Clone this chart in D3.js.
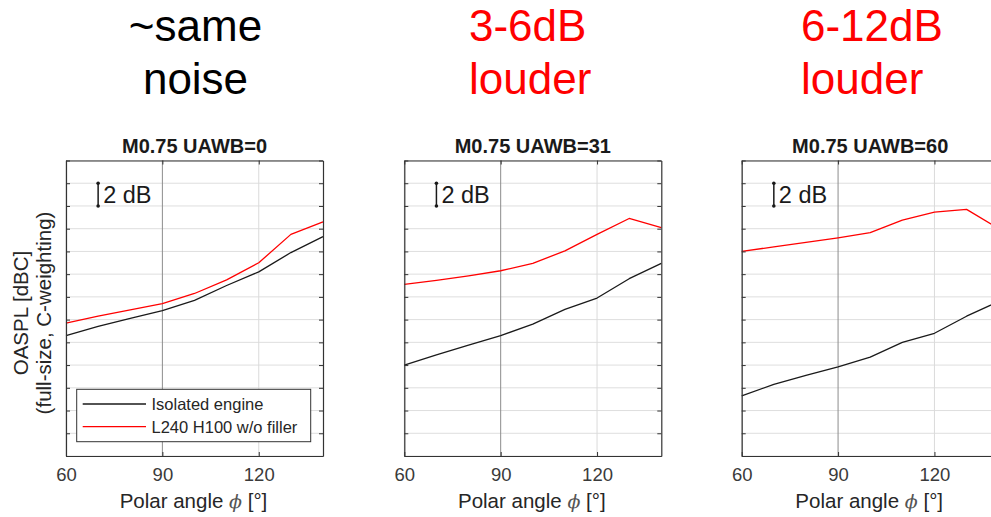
<!DOCTYPE html>
<html>
<head>
<meta charset="utf-8">
<script src="https://cdn.jsdelivr.net/npm/d3@7"></script>
<style>
  html, body { margin: 0; padding: 0; background: #fff; }
  svg { display: block; font-family: "Liberation Sans", Arial, sans-serif; }
</style>
</head>
<body>
<svg id="chart" width="991" height="517"></svg>
<script>
// ---------------- data ----------------
const angles = [60, 70, 80, 90, 100, 110, 120, 130, 140];
const xTicks = [60, 90, 120];
const yTicks = [0, 2, 4, 6, 8, 10, 12, 14, 16, 18, 20, 22, 24, 26]; // relative dB, unlabeled
const seriesNames = ["Isolated engine", "L240 H100 w/o filler"];
const panelTitles = ["M0.75 UAWB=0", "M0.75 UAWB=31", "M0.75 UAWB=60"];
const headerLines = [["~same", "noise"], ["3-6dB", "louder"], ["6-12dB", "louder"]];
const isolated0 = [10.6, 11.4, 12.1, 12.8, 13.7, 15.0, 16.2, 17.9, 19.3];
const filler0   = [11.7, 12.3, 12.85, 13.4, 14.3, 15.5, 17.0, 19.5, 20.6];
const isolated31 = [8.0, 8.9, 9.75, 10.6, 11.6, 12.9, 13.9, 15.6, 16.95];
const filler31   = [15.1, 15.45, 15.85, 16.3, 16.95, 18.05, 19.5, 20.9, 20.1];
const isolated60 = [5.3, 6.3, 7.1, 7.85, 8.7, 10.0, 10.8, 12.3, 13.6];
const filler60   = [18.0, 18.4, 18.8, 19.2, 19.65, 20.75, 21.45, 21.7, 20.0];
const scaleBar = { angle: 70, from: 22, to: 24, label: "2 dB" };
const xLabel = "Polar angle ";
const xLabelSym = "\u03D5";
const xLabelUnit = " [\u00B0]";
const yLabel = ["OASPL [dBC]", "(full-size, C-weighting)"];

const panelsData = [
  { title: panelTitles[0], header: headerLines[0], iso: isolated0, fil: filler0 },
  { title: panelTitles[1], header: headerLines[1], iso: isolated31, fil: filler31 },
  { title: panelTitles[2], header: headerLines[2], iso: isolated60, fil: filler60 }
];

// ---------------- layout ----------------
const svg = d3.select("#chart");
const lefts = [66, 404.3, 741.7];
const pw = 257, plotTop = 160.5, plotBottom = 456;
const colors = ["#1a1a1a", "#ff0000"];
const headerColors = ["#000000", "#ff0000", "#ff0000"];
const headerX = [195.5, 469, 801];
const headerAnchor = ["middle", "start", "start"];

panelsData.forEach((p, i) => {
  const x0 = lefts[i];
  const x = d3.scaleLinear().domain([60, 140]).range([x0, x0 + pw]);
  const y = d3.scaleLinear().domain([0, 26]).range([plotBottom, plotTop]);
  const g = svg.append("g");

  // header
  const ht = g.append("text")
    .attr("x", headerX[i]).attr("y", 41)
    .attr("fill", headerColors[i])
    .attr("font-size", 44)
    .attr("text-anchor", headerAnchor[i]);
  p.header.forEach((line, k) => {
    ht.append("tspan").attr("x", headerX[i]).attr("y", 41 + k * 53).text(line);
  });

  // background
  g.append("rect").attr("x", x0).attr("y", plotTop).attr("width", pw).attr("height", plotBottom - plotTop).attr("fill", "#fff");

  // grid
  g.append("g").selectAll("line").data(yTicks).join("line")
    .attr("x1", x0).attr("x2", x0 + pw)
    .attr("y1", d => y(d)).attr("y2", d => y(d))
    .attr("stroke", "#dedede").attr("stroke-width", 1);
  g.append("g").selectAll("line").data(xTicks).join("line")
    .attr("x1", d => x(d)).attr("x2", d => x(d))
    .attr("y1", plotTop).attr("y2", plotBottom)
    .attr("stroke", d => d === 90 ? "#8c8c8c" : "#dadada").attr("stroke-width", 1);

  // lines
  const line = d3.line().x((d, k) => x(angles[k])).y(d => y(d));
  [p.iso, p.fil].forEach((vals, s) => {
    g.append("path").datum(vals).attr("d", line)
      .attr("fill", "none").attr("stroke", colors[s]).attr("stroke-width", 1.3)
      .attr("stroke-linejoin", "round");
  });

  // axes (inward ticks)
  const axB = g.append("g").attr("transform", `translate(0,${plotBottom})`)
    .call(d3.axisBottom(x).tickValues(xTicks).tickSize(-4).tickPadding(12).tickSizeOuter(0));
  const axT = g.append("g").attr("transform", `translate(0,${plotTop})`)
    .call(d3.axisTop(x).tickValues(xTicks).tickSize(-4).tickFormat("").tickSizeOuter(0));
  const axL = g.append("g").attr("transform", `translate(${x0},0)`)
    .call(d3.axisLeft(y).tickValues(yTicks).tickSize(-4).tickFormat("").tickSizeOuter(0));
  const axR = g.append("g").attr("transform", `translate(${x0 + pw},0)`)
    .call(d3.axisRight(y).tickValues(yTicks).tickSize(-4).tickFormat("").tickSizeOuter(0));
  [axB, axT, axL, axR].forEach(a => {
    a.select(".domain").attr("stroke", "#333").attr("stroke-width", 1.2);
    a.selectAll(".tick line").attr("stroke", "#333");
  });
  axB.selectAll(".tick text").attr("font-size", 18.5).attr("fill", "#3a3a3a")
    .attr("font-family", "'Liberation Sans', Arial, sans-serif");

  // title
  g.append("text").attr("x", x0 + pw / 2).attr("y", 153)
    .attr("text-anchor", "middle").attr("font-weight", "bold").attr("font-size", 20)
    .attr("fill", "#1a1a1a").text(p.title);

  // x label
  const xl = g.append("text").attr("x", x0 + pw / 2 - 1).attr("y", 508)
    .attr("text-anchor", "middle").attr("font-size", 20.5).attr("fill", "#262626");
  xl.append("tspan").text(xLabel);
  xl.append("tspan").attr("font-family", "'DejaVu Serif', 'Liberation Serif', serif")
    .attr("font-style", "italic").attr("font-size", 19).attr("fill", "#555").text(xLabelSym);
  xl.append("tspan").text(xLabelUnit);

  // scale bar
  const bx = x(scaleBar.angle);
  g.append("line").attr("x1", bx).attr("x2", bx)
    .attr("y1", y(scaleBar.from)).attr("y2", y(scaleBar.to))
    .attr("stroke", "#1a1a1a").attr("stroke-width", 1.5);
  g.selectAll("circle.sb").data([scaleBar.from, scaleBar.to]).join("circle")
    .attr("cx", bx).attr("cy", d => y(d)).attr("r", 1.8).attr("fill", "#1a1a1a");
  g.append("text").attr("x", bx + 5).attr("y", y(scaleBar.from) - 2.5)
    .attr("font-size", 23.5).attr("fill", "#1a1a1a").text(scaleBar.label);
});

// y label (first panel)
const yl = svg.append("g").attr("transform", "translate(0,313) rotate(-90)");
yLabel.forEach((t, k) => {
  yl.append("text").attr("x", 0).attr("y", 28 + k * 23)
    .attr("text-anchor", "middle").attr("font-size", 20.5).attr("fill", "#262626").text(t);
});

// legend (first panel)
const lg = svg.append("g");
lg.append("rect").attr("x", 76.7).attr("y", 389.3).attr("width", 234).attr("height", 52.4)
  .attr("fill", "#fff").attr("stroke", "#333").attr("stroke-width", 1);
seriesNames.forEach((n, k) => {
  const cy = 404 + k * 22.7;
  lg.append("line").attr("x1", 82.7).attr("x2", 146).attr("y1", cy).attr("y2", cy)
    .attr("stroke", colors[k]).attr("stroke-width", 1.3);
  lg.append("text").attr("x", 151.5).attr("y", cy + 6).attr("font-size", 16.5)
    .attr("fill", "#262626").text(n);
});
</script>
</body>
</html>
